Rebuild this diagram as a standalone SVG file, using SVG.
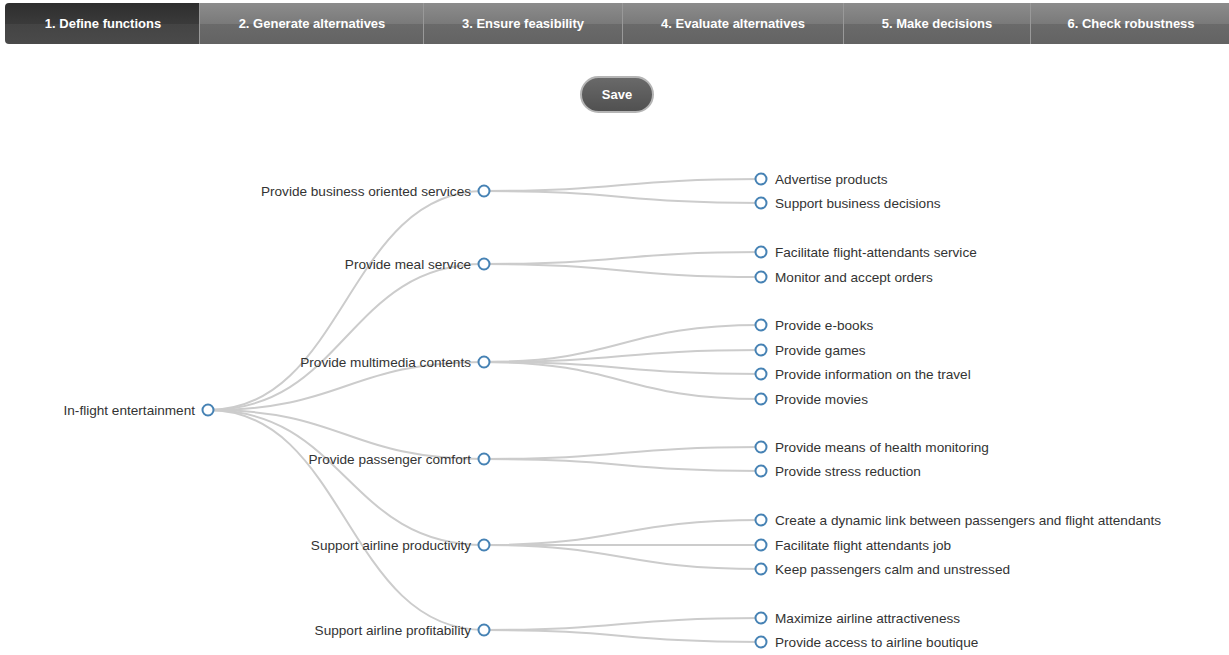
<svg xmlns="http://www.w3.org/2000/svg" width="1229" height="655" viewBox="0 0 1229 655">
<defs>
<linearGradient id="tabG" x1="0" y1="0" x2="0" y2="1">
<stop offset="0" stop-color="#8c8c8c"/>
<stop offset="0.5" stop-color="#7a7a7a"/>
<stop offset="0.52" stop-color="#6a6a6a"/>
<stop offset="1" stop-color="#636363"/>
</linearGradient>
<linearGradient id="tabA" x1="0" y1="0" x2="0" y2="1">
<stop offset="0" stop-color="#2e2e2e"/>
<stop offset="0.5" stop-color="#3a3a3a"/>
<stop offset="0.52" stop-color="#444"/>
<stop offset="1" stop-color="#4a4a4a"/>
</linearGradient>
<linearGradient id="btnG" x1="0" y1="0" x2="0" y2="1">
<stop offset="0" stop-color="#6a6a6a"/>
<stop offset="1" stop-color="#505050"/>
</linearGradient>
</defs>
<style>
.tab{fill:url(#tabG);}
.tabA{fill:url(#tabA);}
.div{stroke:#999;stroke-width:1;}
.tt{font-family:"Liberation Sans",Arial,sans-serif;font-weight:bold;font-size:13px;fill:#fff;text-anchor:middle;}
.link{fill:none;stroke:#ccc;stroke-width:2;}
.node circle{fill:#fff;stroke:#4682b4;stroke-width:2;}
.node text{font-family:"Liberation Sans",Arial,sans-serif;font-size:13.6px;fill:#333;}
.l{text-anchor:end;}
</style>
<rect width="1229" height="655" fill="#fff"/>
<g id="tabs">
<path class="tabA" d="M9,3 H199 V44 H9 Q5,44 5,40 V7 Q5,3 9,3 Z"/>
<rect class="tab" x="199" y="3" width="1030" height="41"/>
<line class="div" x1="199.5" y1="3" x2="199.5" y2="44" stroke="#555"/>
<line class="div" x1="423.5" y1="3" x2="423.5" y2="44"/>
<line class="div" x1="622.5" y1="3" x2="622.5" y2="44"/>
<line class="div" x1="843.5" y1="3" x2="843.5" y2="44"/>
<line class="div" x1="1030.5" y1="3" x2="1030.5" y2="44"/>
<text class="tt" x="103" y="28">1. Define functions</text>
<text class="tt" x="312" y="28">2. Generate alternatives</text>
<text class="tt" x="523" y="28">3. Ensure feasibility</text>
<text class="tt" x="733" y="28">4. Evaluate alternatives</text>
<text class="tt" x="937" y="28">5. Make decisions</text>
<text class="tt" x="1131" y="28">6. Check robustness</text>
</g>
<g id="save">
<rect x="581" y="77" width="72" height="35" rx="17.5" fill="url(#btnG)" stroke="#b5b5b5" stroke-width="2"/>
<text class="tt" x="617" y="99">Save</text>
</g>
<g id="links">
<path class="link" d="M208,410 C346,410 346,191 484,191"/>
<path class="link" d="M208,410 C346,410 346,264 484,264"/>
<path class="link" d="M208,410 C346,410 346,362 484,362"/>
<path class="link" d="M208,410 C346,410 346,459 484,459"/>
<path class="link" d="M208,410 C346,410 346,545 484,545"/>
<path class="link" d="M208,410 C346,410 346,630 484,630"/>
<path class="link" d="M484,191 C622,191 622,179 761,179"/>
<path class="link" d="M484,191 C622,191 622,203 761,203"/>
<path class="link" d="M484,264 C622,264 622,252 761,252"/>
<path class="link" d="M484,264 C622,264 622,277 761,277"/>
<path class="link" d="M484,362 C622,362 622,325 761,325"/>
<path class="link" d="M484,362 C622,362 622,350 761,350"/>
<path class="link" d="M484,362 C622,362 622,374 761,374"/>
<path class="link" d="M484,362 C622,362 622,399 761,399"/>
<path class="link" d="M484,459 C622,459 622,447 761,447"/>
<path class="link" d="M484,459 C622,459 622,471 761,471"/>
<path class="link" d="M484,545 C622,545 622,520 761,520"/>
<path class="link" d="M484,545 C622,545 622,545 761,545"/>
<path class="link" d="M484,545 C622,545 622,569 761,569"/>
<path class="link" d="M484,630 C622,630 622,618 761,618"/>
<path class="link" d="M484,630 C622,630 622,642 761,642"/>
</g>
<g id="n-root" class="node" transform="translate(208,410)"><circle r="5.5"/><text class="l" x="-13" dy="5">In-flight entertainment</text></g>
<g id="n-business" class="node" transform="translate(484,191)"><circle r="5.5"/><text class="l" x="-13" dy="5">Provide business oriented services</text></g>
<g id="n-meal" class="node" transform="translate(484,264)"><circle r="5.5"/><text class="l" x="-13" dy="5">Provide meal service</text></g>
<g id="n-multimedia" class="node" transform="translate(484,362)"><circle r="5.5"/><text class="l" x="-13" dy="5">Provide multimedia contents</text></g>
<g id="n-comfort" class="node" transform="translate(484,459)"><circle r="5.5"/><text class="l" x="-13" dy="5">Provide passenger comfort</text></g>
<g id="n-productivity" class="node" transform="translate(484,545)"><circle r="5.5"/><text class="l" x="-13" dy="5">Support airline productivity</text></g>
<g id="n-profitability" class="node" transform="translate(484,630)"><circle r="5.5"/><text class="l" x="-13" dy="5">Support airline profitability</text></g>
<g id="n-advertise" class="node" transform="translate(761,179)"><circle r="5.5"/><text x="14" dy="5">Advertise products</text></g>
<g id="n-decisions" class="node" transform="translate(761,203)"><circle r="5.5"/><text x="14" dy="5">Support business decisions</text></g>
<g id="n-facilitate-fa" class="node" transform="translate(761,252)"><circle r="5.5"/><text x="14" dy="5">Facilitate flight-attendants service</text></g>
<g id="n-orders" class="node" transform="translate(761,277)"><circle r="5.5"/><text x="14" dy="5">Monitor and accept orders</text></g>
<g id="n-ebooks" class="node" transform="translate(761,325)"><circle r="5.5"/><text x="14" dy="5">Provide e-books</text></g>
<g id="n-games" class="node" transform="translate(761,350)"><circle r="5.5"/><text x="14" dy="5">Provide games</text></g>
<g id="n-info" class="node" transform="translate(761,374)"><circle r="5.5"/><text x="14" dy="5">Provide information on the travel</text></g>
<g id="n-movies" class="node" transform="translate(761,399)"><circle r="5.5"/><text x="14" dy="5">Provide movies</text></g>
<g id="n-health" class="node" transform="translate(761,447)"><circle r="5.5"/><text x="14" dy="5">Provide means of health monitoring</text></g>
<g id="n-stress" class="node" transform="translate(761,471)"><circle r="5.5"/><text x="14" dy="5">Provide stress reduction</text></g>
<g id="n-link" class="node" transform="translate(761,520)"><circle r="5.5"/><text x="14" dy="5">Create a dynamic link between passengers and flight attendants</text></g>
<g id="n-job" class="node" transform="translate(761,545)"><circle r="5.5"/><text x="14" dy="5">Facilitate flight attendants job</text></g>
<g id="n-calm" class="node" transform="translate(761,569)"><circle r="5.5"/><text x="14" dy="5">Keep passengers calm and unstressed</text></g>
<g id="n-attract" class="node" transform="translate(761,618)"><circle r="5.5"/><text x="14" dy="5">Maximize airline attractiveness</text></g>
<g id="n-boutique" class="node" transform="translate(761,642)"><circle r="5.5"/><text x="14" dy="5">Provide access to airline boutique</text></g>
</svg>
